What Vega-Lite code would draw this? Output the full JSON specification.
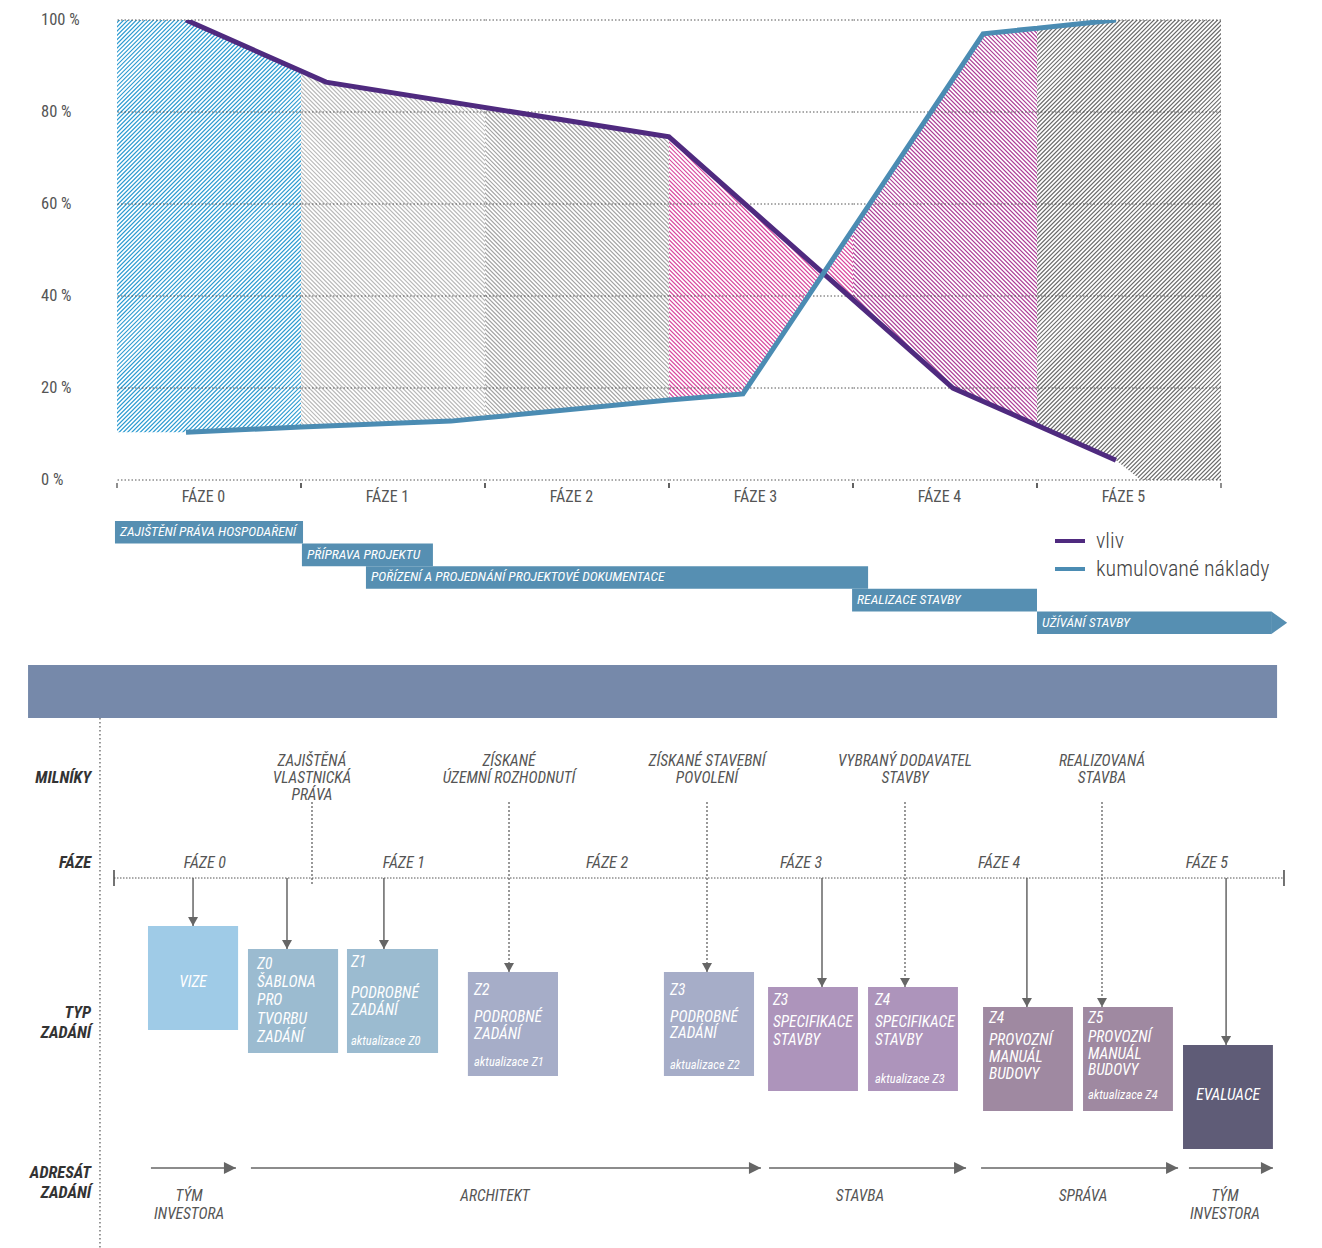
{
"$schema": "https://vega.github.io/schema/vega-lite/v6.json",
"background": "white",
"padding": 0,
"spacing": 0,
"bounds": "flush",
"config": {"view": {"stroke": null}, "font": "Roboto Condensed, Liberation Sans Narrow, DejaVu Sans Condensed, sans-serif"},
"datasets": {
"lines": [
{"series":"vliv","u":0.375,"v":100},
{"series":"vliv","u":1.136,"v":86.5},
{"series":"vliv","u":3.0,"v":74.6},
{"series":"vliv","u":4.543,"v":20.0},
{"series":"vliv","u":5.429,"v":4.3},
{"series":"kumulované náklady","u":0.375,"v":10.4},
{"series":"kumulované náklady","u":1.0,"v":11.5},
{"series":"kumulované náklady","u":1.815,"v":12.8},
{"series":"kumulované náklady","u":3.0,"v":17.4},
{"series":"kumulované náklady","u":3.402,"v":18.7},
{"series":"kumulované náklady","u":4.707,"v":97.0},
{"series":"kumulované náklady","u":5.429,"v":100}
],
"regions": [
{"region":0,"u":0,"lo":10.4,"hi":100},
{"region":0,"u":0.375,"lo":10.4,"hi":100},
{"region":0,"u":1.0,"lo":11.5,"hi":88.9},
{"region":1,"u":1.0,"lo":11.5,"hi":88.9},
{"region":1,"u":1.136,"lo":11.7,"hi":86.5},
{"region":1,"u":1.815,"lo":12.8,"hi":82.2},
{"region":1,"u":2.0,"lo":13.5,"hi":81.0},
{"region":2,"u":2.0,"lo":13.5,"hi":81.0},
{"region":2,"u":3.0,"lo":17.4,"hi":74.6},
{"region":3,"u":3.0,"lo":17.4,"hi":74.6},
{"region":3,"u":3.402,"lo":18.7,"hi":60.4},
{"region":3,"u":3.839,"lo":44.9,"hi":44.9},
{"region":3,"u":4.0,"lo":39.2,"hi":54.6},
{"region":4,"u":4.0,"lo":39.2,"hi":54.6},
{"region":4,"u":4.543,"lo":20.0,"hi":87.2},
{"region":4,"u":4.707,"lo":17.1,"hi":97.0},
{"region":4,"u":5.0,"lo":11.9,"hi":98.2},
{"region":5,"u":5.0,"lo":11.9,"hi":98.2},
{"region":5,"u":5.429,"lo":4.3,"hi":100},
{"region":5,"u":5.565,"lo":0,"hi":100},
{"region":5,"u":6.0,"lo":0,"hi":100}
],
"grid": [{"pct":0},{"pct":20},{"pct":40},{"pct":60},{"pct":80},{"pct":100}],
"topPhases": [
{"phase":"FÁZE 0","start":0,"end":1},
{"phase":"FÁZE 1","start":1,"end":2},
{"phase":"FÁZE 2","start":2,"end":3},
{"phase":"FÁZE 3","start":3,"end":4},
{"phase":"FÁZE 4","start":4,"end":5},
{"phase":"FÁZE 5","start":5,"end":6}
],
"stages": [
{"stage":"ZAJIŠTĚNÍ PRÁVA HOSPODAŘENÍ","order":0,"start":-0.011,"end":1.011},
{"stage":"PŘÍPRAVA PROJEKTU","order":1,"start":1.005,"end":1.717},
{"stage":"POŘÍZENÍ A PROJEDNÁNÍ PROJEKTOVÉ DOKUMENTACE","order":2,"start":1.353,"end":4.082},
{"stage":"REALIZACE STAVBY","order":3,"start":3.995,"end":5.0},
{"stage":"UŽÍVÁNÍ STAVBY","order":4,"start":5.0,"end":6.272}
],
"boxes": [
{"box":"VIZE","group":"vize","x0":0.172,"x1":0.628,"y0":27.8,"y1":38.2},
{"box":"Z0","group":"z01","x0":0.678,"x1":1.134,"y0":30.1,"y1":40.5},
{"box":"Z1","group":"z01","x0":1.179,"x1":1.640,"y0":30.1,"y1":40.5},
{"box":"Z2","group":"z23","x0":1.791,"x1":2.247,"y0":32.4,"y1":42.8},
{"box":"Z3 podrobné","group":"z23","x0":2.783,"x1":3.239,"y0":32.4,"y1":42.8},
{"box":"Z3 specifikace","group":"spec","x0":3.310,"x1":3.765,"y0":33.9,"y1":44.3},
{"box":"Z4 specifikace","group":"spec","x0":3.816,"x1":4.271,"y0":33.9,"y1":44.3},
{"box":"Z4 provoz","group":"provoz","x0":4.398,"x1":4.853,"y0":35.9,"y1":46.3},
{"box":"Z5 provoz","group":"provoz","x0":4.904,"x1":5.359,"y0":35.9,"y1":46.3},
{"box":"EVALUACE","group":"eval","x0":5.410,"x1":5.865,"y0":39.7,"y1":50.1}
],
"boxtext": [
{"text":"VIZE","u":0.400,"v":33.4,"role":"center"},
{"text":"Z0","u":0.724,"v":31.6,"role":"title"},
{"text":"ŠABLONA","u":0.724,"v":33.4,"role":"body"},
{"text":"PRO","u":0.724,"v":35.2,"role":"body"},
{"text":"TVORBU","u":0.724,"v":37.1,"role":"body"},
{"text":"ZADÁNÍ","u":0.724,"v":38.9,"role":"body"},
{"text":"Z1","u":1.199,"v":31.4,"role":"title"},
{"text":"PODROBNÉ","u":1.199,"v":34.5,"role":"body"},
{"text":"ZADÁNÍ","u":1.199,"v":36.2,"role":"body"},
{"text":"aktualizace Z0","u":1.199,"v":39.3,"role":"note"},
{"text":"Z2","u":1.822,"v":34.2,"role":"title"},
{"text":"PODROBNÉ","u":1.822,"v":36.9,"role":"body"},
{"text":"ZADÁNÍ","u":1.822,"v":38.6,"role":"body"},
{"text":"aktualizace Z1","u":1.822,"v":41.4,"role":"note"},
{"text":"Z3","u":2.814,"v":34.2,"role":"title"},
{"text":"PODROBNÉ","u":2.814,"v":36.9,"role":"body"},
{"text":"ZADÁNÍ","u":2.814,"v":38.5,"role":"body"},
{"text":"aktualizace Z2","u":2.814,"v":41.7,"role":"note"},
{"text":"Z3","u":3.335,"v":35.2,"role":"title"},
{"text":"SPECIFIKACE","u":3.335,"v":37.4,"role":"body"},
{"text":"STAVBY","u":3.335,"v":39.2,"role":"body"},
{"text":"Z4","u":3.851,"v":35.2,"role":"title"},
{"text":"SPECIFIKACE","u":3.851,"v":37.4,"role":"body"},
{"text":"STAVBY","u":3.851,"v":39.2,"role":"body"},
{"text":"aktualizace Z3","u":3.851,"v":43.1,"role":"note"},
{"text":"Z4","u":4.428,"v":37.0,"role":"title"},
{"text":"PROVOZNÍ","u":4.428,"v":39.2,"role":"body"},
{"text":"MANUÁL","u":4.428,"v":40.9,"role":"body"},
{"text":"BUDOVY","u":4.428,"v":42.6,"role":"body"},
{"text":"Z5","u":4.929,"v":37.0,"role":"title"},
{"text":"PROVOZNÍ","u":4.929,"v":38.9,"role":"body"},
{"text":"MANUÁL","u":4.929,"v":40.6,"role":"body"},
{"text":"BUDOVY","u":4.929,"v":42.2,"role":"body"},
{"text":"aktualizace Z4","u":4.929,"v":44.7,"role":"note"},
{"text":"EVALUACE","u":5.638,"v":44.7,"role":"center"}
],
"links": [
{"box":"VIZE","u":0.400,"target":27.8},
{"box":"Z0","u":0.8755,"target":30.1},
{"box":"Z1","u":1.366,"target":30.1},
{"box":"Z3 specifikace","u":3.583,"target":33.9},
{"box":"Z4 provoz","u":4.620,"target":35.9},
{"box":"EVALUACE","u":5.628,"target":39.7}
],
"milestones": [
{"label":"ZAJIŠTĚNÁ\nVLASTNICKÁ\nPRÁVA","u":1.002,"target":23.8},
{"label":"ZÍSKANÉ\nÚZEMNÍ ROZHODNUTÍ","u":1.999,"target":32.4},
{"label":"ZÍSKANÉ STAVEBNÍ\nPOVOLENÍ","u":3.001,"target":32.4},
{"label":"VYBRANÝ DODAVATEL\nSTAVBY","u":4.003,"target":33.9},
{"label":"REALIZOVANÁ\nSTAVBA","u":5.0,"target":35.9}
],
"phases": [
{"phase":"FÁZE 0","u":0.46},
{"phase":"FÁZE 1","u":1.467},
{"phase":"FÁZE 2","u":2.495},
{"phase":"FÁZE 3","u":3.477},
{"phase":"FÁZE 4","u":4.479},
{"phase":"FÁZE 5","u":5.531}
],
"rowlabels": [
{"label":"MILNÍKY","v":13.0},
{"label":"FÁZE","v":21.5},
{"label":"TYP\nZADÁNÍ","v":36.5},
{"label":"ADRESÁT\nZADÁNÍ","v":52.45}
],
"addressees": [
{"label":"TÝM\nINVESTORA","u0":0.187,"u1":0.617,"cu":0.380},
{"label":"ARCHITEKT","u0":0.693,"u1":3.274,"cu":1.928},
{"label":"STAVBA","u0":3.315,"u1":4.312,"cu":3.775},
{"label":"SPRÁVA","u0":4.388,"u1":5.385,"cu":4.904},
{"label":"TÝM\nINVESTORA","u0":5.440,"u1":5.865,"cu":5.622}
]
},
"resolve": {"scale": {"x": "independent", "y": "independent", "color": "independent"}},
"hconcat": [
{"width":184,"height":460,
"resolve": {"scale": {"x": "independent", "y": "independent", "color": "independent"}},
"layer":[
{"layer":[
{"data":{"values":[{}]},"transform":[{"calculate":"-1.04","as":"a"},{"calculate":"2.04","as":"b"},{"calculate":"111.5","as":"c"},{"calculate":"-11.5","as":"d"}],
"mark":{"type":"rule","clip":true,"color":"#2d9bd1","strokeWidth":700,"strokeDash":[1.2,1.8],"strokeCap":"butt"},
"encoding":{"x":{"field":"a","type":"quantitative","scale":{"domain":[0,1],"nice":false,"zero":false},"axis":null},"x2":{"field":"b"},
"y":{"field":"c","type":"quantitative","scale":{"domain":[0,100],"nice":false,"zero":false},"axis":null},"y2":{"field":"d"}}},
{"data":{"name":"regions"},"transform":[{"filter":"datum.region == 0"},{"calculate":"100","as":"ceil"}],"mark":{"type":"area","clip":true,"color":"white","opacity":1},
"encoding":{"x":{"field":"u","type":"quantitative","axis":null},"y":{"field":"hi","type":"quantitative","axis":null},"y2":{"field":"ceil"}}},
{"data":{"name":"regions"},"transform":[{"filter":"datum.region == 0"},{"calculate":"0","as":"floor"}],"mark":{"type":"area","clip":true,"color":"white","opacity":1},
"encoding":{"x":{"field":"u","type":"quantitative","axis":null},"y":{"field":"lo","type":"quantitative","axis":null},"y2":{"field":"floor"}}},
{"data":{"name":"grid"},"mark":{"type":"rule","color":"#555","strokeWidth":1,"strokeDash":[1.5,2]},
"encoding":{"y":{"field":"pct","type":"quantitative","axis":null}}},
{"data":{"name":"grid"},"transform":[{"calculate":"-0.413","as":"a"},{"calculate":"datum.pct + ' %'","as":"label"}],"mark":{"type":"text","align":"left","baseline":"middle","fontSize":16.5,"color":"#555"},
"encoding":{"x":{"field":"a","type":"quantitative","axis":null},"y":{"field":"pct","type":"quantitative","axis":null},"text":{"field":"label"}}},
{"data":{"name":"topPhases"},"transform":[{"calculate":"-0.65","as":"t0"},{"calculate":"-1.75","as":"t1"}],"mark":{"type":"rule","color":"#444","strokeWidth":1.2},
"encoding":{"x":{"field":"start","type":"quantitative","axis":null},"y":{"field":"t0","type":"quantitative","axis":null},"y2":{"field":"t1"}}},
{"data":{"name":"topPhases"},"transform":[{"calculate":"-0.65","as":"t0"},{"calculate":"-1.75","as":"t1"}],"mark":{"type":"rule","color":"#444","strokeWidth":1.2},
"encoding":{"x":{"field":"end","type":"quantitative","axis":null},"y":{"field":"t0","type":"quantitative","axis":null},"y2":{"field":"t1"}}},
{"data":{"name":"topPhases"},"transform":[{"calculate":"(datum.start + datum.end) / 2 - 0.03","as":"mid"},{"calculate":"-3.7","as":"row"}],"mark":{"type":"text","align":"center","baseline":"middle","fontSize":16,"color":"#555"},
"encoding":{"x":{"field":"mid","type":"quantitative","axis":null},"y":{"field":"row","type":"quantitative","axis":null},"text":{"field":"phase"}}},
{"data":{"name":"lines"},"mark":{"type":"line","clip":true,"strokeWidth":5},
"encoding":{"x":{"field":"u","type":"quantitative","axis":null},"y":{"field":"v","type":"quantitative","axis":null},"color":{"field":"series","type":"nominal","scale":{"domain":["vliv","kumulované náklady"],"range":["#4f2a7f","#4b8cb3"]},"legend":null}}}
]},
{"layer":[
{"data":{"name":"stages"},"transform":[{"calculate":"datum.order + 1","as":"orderEnd"}],"mark":{"type":"rect","color":"#568fb2"},
"encoding":{"x":{"field":"start","type":"quantitative","scale":{"domain":[0,1],"nice":false,"zero":false},"axis":null},"x2":{"field":"end"},
"y":{"field":"order","type":"quantitative","scale":{"domain":[-22.168,-1.814],"nice":false,"zero":false,"reverse":true},"axis":null},"y2":{"field":"orderEnd"}}},
{"data":{"name":"stages"},"transform":[{"filter":"datum.order == 4"},{"calculate":"datum.order + 0.5","as":"mid"}],"mark":{"type":"point","shape":"M0,-1L1.4,0L0,1Z","filled":true,"opacity":1,"color":"#568fb2","size":529,"strokeWidth":0},
"encoding":{"x":{"field":"end","type":"quantitative","axis":null},"y":{"field":"mid","type":"quantitative","axis":null}}},
{"data":{"name":"stages"},"transform":[{"calculate":"datum.order + 0.5","as":"mid"}],"mark":{"type":"text","align":"left","baseline":"middle","dx":5,"color":"white","fontSize":13.6,"fontStyle":"italic","fontWeight":"normal"},
"encoding":{"x":{"field":"start","type":"quantitative","axis":null},"y":{"field":"mid","type":"quantitative","axis":null},"text":{"field":"stage"}}}
]},
{"layer":[
{"data":{"values":[{}]},"transform":[{"calculate":"-0.5719","as":"a"},{"calculate":"6.1184","as":"b"},{"calculate":"-64.8","as":"c"},{"calculate":"60","as":"d"}],
"mark":{"type":"rect","opacity":0,"color":"white"},
"encoding":{"x":{"field":"a","type":"quantitative","scale":{"domain":[0.015182,0.946356],"nice":false,"zero":false},"axis":null},"x2":{"field":"b"},
"y":{"field":"c","type":"quantitative","scale":{"domain":[-62.8,-16.8],"nice":false,"zero":false,"reverse":true},"axis":null},"y2":{"field":"d"}}},
{"data":{"values":[{}]},"transform":[{"calculate":"-0.435","as":"a"},{"calculate":"5.886","as":"b"},{"calculate":"1.7","as":"c"},{"calculate":"7.0","as":"d"}],
"mark":{"type":"rect","color":"#7689aa"},
"encoding":{"x":{"field":"a","type":"quantitative","axis":null},"x2":{"field":"b"},"y":{"field":"c","type":"quantitative","axis":null},"y2":{"field":"d"}}},
{"data":{"values":[{}]},"transform":[{"calculate":"-0.071","as":"a"},{"calculate":"7.0","as":"c"},{"calculate":"60","as":"d"}],
"mark":{"type":"rule","color":"#777","strokeWidth":1.5,"strokeDash":[1.5,2.5]},
"encoding":{"x":{"field":"a","type":"quantitative","axis":null},"y":{"field":"c","type":"quantitative","axis":null},"y2":{"field":"d"}}},
{"data":{"name":"rowlabels"},"transform":[{"calculate":"-0.116","as":"a"}],"mark":{"type":"text","align":"right","baseline":"middle","fontSize":16.5,"fontStyle":"italic","fontWeight":"bold","color":"#333","lineBreak":"\n","lineHeight":20},
"encoding":{"x":{"field":"a","type":"quantitative","axis":null},"y":{"field":"v","type":"quantitative","axis":null},"text":{"field":"label"}}},
{"data":{"values":[{}]},"transform":[{"calculate":"0","as":"a"},{"calculate":"5.921","as":"b"},{"calculate":"23.0","as":"c"}],
"mark":{"type":"rule","color":"#555","strokeWidth":1,"strokeDash":[1.5,1.5]},
"encoding":{"x":{"field":"a","type":"quantitative","axis":null},"x2":{"field":"b"},"y":{"field":"c","type":"quantitative","axis":null}}},
{"data":{"values":[{"edge":0},{"edge":5.921}]},"transform":[{"calculate":"22.2","as":"c"},{"calculate":"23.8","as":"d"}],
"mark":{"type":"rule","color":"#444","strokeWidth":1.5},
"encoding":{"x":{"field":"edge","type":"quantitative","axis":null},"y":{"field":"c","type":"quantitative","axis":null},"y2":{"field":"d"}}},
{"data":{"name":"milestones"},"transform":[{"calculate":"15.4","as":"from"}],"mark":{"type":"rule","color":"#555","strokeWidth":1.2,"strokeDash":[2,2]},
"encoding":{"x":{"field":"u","type":"quantitative","axis":null},"y":{"field":"from","type":"quantitative","axis":null},"y2":{"field":"target"}}},
{"data":{"name":"milestones"},"transform":[{"filter":"datum.target > 24"}],"mark":{"type":"point","shape":"M0,0L-1,-1.8L1,-1.8Z","filled":true,"opacity":1,"color":"#666","size":100,"strokeWidth":0},
"encoding":{"x":{"field":"u","type":"quantitative","axis":null},"y":{"field":"target","type":"quantitative","axis":null}}},
{"data":{"name":"milestones"},"transform":[{"calculate":"10.6","as":"top"}],"mark":{"type":"text","align":"center","baseline":"top","fontSize":15.5,"fontStyle":"italic","color":"#555","lineBreak":"\n","lineHeight":17},
"encoding":{"x":{"field":"u","type":"quantitative","axis":null},"y":{"field":"top","type":"quantitative","axis":null},"text":{"field":"label"}}},
{"data":{"name":"phases"},"transform":[{"calculate":"21.5","as":"row"}],"mark":{"type":"text","align":"center","baseline":"middle","fontSize":16,"fontStyle":"italic","color":"#555"},
"encoding":{"x":{"field":"u","type":"quantitative","axis":null},"y":{"field":"row","type":"quantitative","axis":null},"text":{"field":"phase"}}},
{"data":{"name":"links"},"transform":[{"calculate":"23.0","as":"from"}],"mark":{"type":"rule","color":"#666","strokeWidth":1.5},
"encoding":{"x":{"field":"u","type":"quantitative","axis":null},"y":{"field":"from","type":"quantitative","axis":null},"y2":{"field":"target"}}},
{"data":{"name":"links"},"mark":{"type":"point","shape":"M0,0L-1,-1.8L1,-1.8Z","filled":true,"opacity":1,"color":"#666","size":100,"strokeWidth":0},
"encoding":{"x":{"field":"u","type":"quantitative","axis":null},"y":{"field":"target","type":"quantitative","axis":null}}},
{"data":{"name":"boxes"},"mark":{"type":"rect","opacity":1},
"encoding":{"x":{"field":"x0","type":"quantitative","axis":null},"x2":{"field":"x1"},"y":{"field":"y0","type":"quantitative","axis":null},"y2":{"field":"y1"},
"color":{"field":"group","type":"nominal","scale":{"domain":["vize","z01","z23","spec","provoz","eval"],"range":["#9fcbe7","#9bbbd0","#a6adc8","#ad94bb","#9f89a1","#5f5c77"]},"legend":null}}},
{"data":{"name":"boxtext"},"transform":[{"filter":"datum.role == 'title' || datum.role == 'body'"}],"mark":{"type":"text","align":"left","baseline":"middle","fontStyle":"italic","color":"white","fontSize":15.5},
"encoding":{"x":{"field":"u","type":"quantitative","axis":null},"y":{"field":"v","type":"quantitative","axis":null},"text":{"field":"text"}}},
{"data":{"name":"boxtext"},"transform":[{"filter":"datum.role == 'note'"}],"mark":{"type":"text","align":"left","baseline":"middle","fontStyle":"italic","color":"white","fontSize":12.5},
"encoding":{"x":{"field":"u","type":"quantitative","axis":null},"y":{"field":"v","type":"quantitative","axis":null},"text":{"field":"text"}}},
{"data":{"name":"boxtext"},"transform":[{"filter":"datum.role == 'center'"}],"mark":{"type":"text","align":"center","baseline":"middle","fontStyle":"italic","color":"white","fontSize":15.5},
"encoding":{"x":{"field":"u","type":"quantitative","axis":null},"y":{"field":"v","type":"quantitative","axis":null},"text":{"field":"text"}}},
{"data":{"name":"addressees"},"transform":[{"calculate":"52.0","as":"row"}],"mark":{"type":"rule","color":"#666","strokeWidth":1.5},
"encoding":{"x":{"field":"u0","type":"quantitative","axis":null},"x2":{"field":"u1"},"y":{"field":"row","type":"quantitative","axis":null}}},
{"data":{"name":"addressees"},"transform":[{"calculate":"52.0","as":"row"}],"mark":{"type":"point","shape":"M0,0L-2,-1L-2,1Z","filled":true,"opacity":1,"color":"#666","size":144,"strokeWidth":0},
"encoding":{"x":{"field":"u1","type":"quantitative","axis":null},"y":{"field":"row","type":"quantitative","axis":null}}},
{"data":{"name":"addressees"},"transform":[{"calculate":"54.75","as":"row"}],"mark":{"type":"text","align":"center","baseline":"middle","fontSize":15.5,"fontStyle":"italic","color":"#555","lineBreak":"\n","lineHeight":18},
"encoding":{"x":{"field":"cu","type":"quantitative","axis":null},"y":{"field":"row","type":"quantitative","axis":null},"text":{"field":"label"}}}
]}
]},
{"width":184,"height":460,"layer":[
{"data":{"values":[{}]},"transform":[{"calculate":"-0.04","as":"a"},{"calculate":"3.04","as":"b"},{"calculate":"-11.5","as":"c"},{"calculate":"111.5","as":"d"}],
"mark":{"type":"rule","clip":true,"color":"#b9b9b9","strokeWidth":700,"strokeDash":[1.2,1.8],"strokeCap":"butt"},
"encoding":{"x":{"field":"a","type":"quantitative","scale":{"domain":[1,2],"nice":false,"zero":false},"axis":null},"x2":{"field":"b"},
"y":{"field":"c","type":"quantitative","scale":{"domain":[0,100],"nice":false,"zero":false},"axis":null},"y2":{"field":"d"}}},
{"data":{"name":"regions"},"transform":[{"filter":"datum.region == 1"},{"calculate":"100","as":"ceil"}],"mark":{"type":"area","clip":true,"color":"white","opacity":1},
"encoding":{"x":{"field":"u","type":"quantitative","axis":null},"y":{"field":"hi","type":"quantitative","axis":null},"y2":{"field":"ceil"}}},
{"data":{"name":"regions"},"transform":[{"filter":"datum.region == 1"},{"calculate":"0","as":"floor"}],"mark":{"type":"area","clip":true,"color":"white","opacity":1},
"encoding":{"x":{"field":"u","type":"quantitative","axis":null},"y":{"field":"lo","type":"quantitative","axis":null},"y2":{"field":"floor"}}},
{"data":{"name":"grid"},"mark":{"type":"rule","color":"#555","strokeWidth":1,"strokeDash":[1.5,2]},
"encoding":{"y":{"field":"pct","type":"quantitative","axis":null}}},
{"data":{"name":"lines"},"mark":{"type":"line","clip":true,"strokeWidth":5},
"encoding":{"x":{"field":"u","type":"quantitative","axis":null},"y":{"field":"v","type":"quantitative","axis":null},"color":{"field":"series","type":"nominal","scale":{"domain":["vliv","kumulované náklady"],"range":["#4f2a7f","#4b8cb3"]},"legend":null}}}
]},
{"width":184,"height":460,"layer":[
{"data":{"values":[{}]},"transform":[{"calculate":"0.96","as":"a"},{"calculate":"4.04","as":"b"},{"calculate":"-11.5","as":"c"},{"calculate":"111.5","as":"d"}],
"mark":{"type":"rule","clip":true,"color":"#a3a3a3","strokeWidth":700,"strokeDash":[1.2,1.8],"strokeCap":"butt"},
"encoding":{"x":{"field":"a","type":"quantitative","scale":{"domain":[2,3],"nice":false,"zero":false},"axis":null},"x2":{"field":"b"},
"y":{"field":"c","type":"quantitative","scale":{"domain":[0,100],"nice":false,"zero":false},"axis":null},"y2":{"field":"d"}}},
{"data":{"name":"regions"},"transform":[{"filter":"datum.region == 2"},{"calculate":"100","as":"ceil"}],"mark":{"type":"area","clip":true,"color":"white","opacity":1},
"encoding":{"x":{"field":"u","type":"quantitative","axis":null},"y":{"field":"hi","type":"quantitative","axis":null},"y2":{"field":"ceil"}}},
{"data":{"name":"regions"},"transform":[{"filter":"datum.region == 2"},{"calculate":"0","as":"floor"}],"mark":{"type":"area","clip":true,"color":"white","opacity":1},
"encoding":{"x":{"field":"u","type":"quantitative","axis":null},"y":{"field":"lo","type":"quantitative","axis":null},"y2":{"field":"floor"}}},
{"data":{"name":"grid"},"mark":{"type":"rule","color":"#555","strokeWidth":1,"strokeDash":[1.5,2]},
"encoding":{"y":{"field":"pct","type":"quantitative","axis":null}}},
{"data":{"name":"lines"},"mark":{"type":"line","clip":true,"strokeWidth":5},
"encoding":{"x":{"field":"u","type":"quantitative","axis":null},"y":{"field":"v","type":"quantitative","axis":null},"color":{"field":"series","type":"nominal","scale":{"domain":["vliv","kumulované náklady"],"range":["#4f2a7f","#4b8cb3"]},"legend":null}}}
]},
{"width":184,"height":460,"layer":[
{"data":{"values":[{}]},"transform":[{"calculate":"1.96","as":"a"},{"calculate":"5.04","as":"b"},{"calculate":"-11.5","as":"c"},{"calculate":"111.5","as":"d"}],
"mark":{"type":"rule","clip":true,"color":"#d9489e","strokeWidth":700,"strokeDash":[1.2,1.8],"strokeCap":"butt"},
"encoding":{"x":{"field":"a","type":"quantitative","scale":{"domain":[3,4],"nice":false,"zero":false},"axis":null},"x2":{"field":"b"},
"y":{"field":"c","type":"quantitative","scale":{"domain":[0,100],"nice":false,"zero":false},"axis":null},"y2":{"field":"d"}}},
{"data":{"name":"regions"},"transform":[{"filter":"datum.region == 3"},{"calculate":"100","as":"ceil"}],"mark":{"type":"area","clip":true,"color":"white","opacity":1},
"encoding":{"x":{"field":"u","type":"quantitative","axis":null},"y":{"field":"hi","type":"quantitative","axis":null},"y2":{"field":"ceil"}}},
{"data":{"name":"regions"},"transform":[{"filter":"datum.region == 3"},{"calculate":"0","as":"floor"}],"mark":{"type":"area","clip":true,"color":"white","opacity":1},
"encoding":{"x":{"field":"u","type":"quantitative","axis":null},"y":{"field":"lo","type":"quantitative","axis":null},"y2":{"field":"floor"}}},
{"data":{"name":"grid"},"mark":{"type":"rule","color":"#555","strokeWidth":1,"strokeDash":[1.5,2]},
"encoding":{"y":{"field":"pct","type":"quantitative","axis":null}}},
{"data":{"name":"lines"},"mark":{"type":"line","clip":true,"strokeWidth":5},
"encoding":{"x":{"field":"u","type":"quantitative","axis":null},"y":{"field":"v","type":"quantitative","axis":null},"color":{"field":"series","type":"nominal","scale":{"domain":["vliv","kumulované náklady"],"range":["#4f2a7f","#4b8cb3"]},"legend":null}}}
]},
{"width":184,"height":460,"layer":[
{"data":{"values":[{}]},"transform":[{"calculate":"2.96","as":"a"},{"calculate":"6.04","as":"b"},{"calculate":"-11.5","as":"c"},{"calculate":"111.5","as":"d"}],
"mark":{"type":"rule","clip":true,"color":"#ad3f97","strokeWidth":700,"strokeDash":[1.2,1.8],"strokeCap":"butt"},
"encoding":{"x":{"field":"a","type":"quantitative","scale":{"domain":[4,5],"nice":false,"zero":false},"axis":null},"x2":{"field":"b"},
"y":{"field":"c","type":"quantitative","scale":{"domain":[0,100],"nice":false,"zero":false},"axis":null},"y2":{"field":"d"}}},
{"data":{"name":"regions"},"transform":[{"filter":"datum.region == 4"},{"calculate":"100","as":"ceil"}],"mark":{"type":"area","clip":true,"color":"white","opacity":1},
"encoding":{"x":{"field":"u","type":"quantitative","axis":null},"y":{"field":"hi","type":"quantitative","axis":null},"y2":{"field":"ceil"}}},
{"data":{"name":"regions"},"transform":[{"filter":"datum.region == 4"},{"calculate":"0","as":"floor"}],"mark":{"type":"area","clip":true,"color":"white","opacity":1},
"encoding":{"x":{"field":"u","type":"quantitative","axis":null},"y":{"field":"lo","type":"quantitative","axis":null},"y2":{"field":"floor"}}},
{"data":{"name":"grid"},"mark":{"type":"rule","color":"#555","strokeWidth":1,"strokeDash":[1.5,2]},
"encoding":{"y":{"field":"pct","type":"quantitative","axis":null}}},
{"data":{"name":"lines"},"mark":{"type":"line","clip":true,"strokeWidth":5},
"encoding":{"x":{"field":"u","type":"quantitative","axis":null},"y":{"field":"v","type":"quantitative","axis":null},"color":{"field":"series","type":"nominal","scale":{"domain":["vliv","kumulované náklady"],"range":["#4f2a7f","#4b8cb3"]},"legend":null}}}
]},
{"width":184,"height":460,"layer":[
{"data":{"values":[{}]},"transform":[{"calculate":"3.96","as":"a"},{"calculate":"7.04","as":"b"},{"calculate":"111.5","as":"c"},{"calculate":"-11.5","as":"d"}],
"mark":{"type":"rule","clip":true,"color":"#6b6b6b","strokeWidth":700,"strokeDash":[1.2,1.8],"strokeCap":"butt"},
"encoding":{"x":{"field":"a","type":"quantitative","scale":{"domain":[5,6],"nice":false,"zero":false},"axis":null},"x2":{"field":"b"},
"y":{"field":"c","type":"quantitative","scale":{"domain":[0,100],"nice":false,"zero":false},"axis":null},"y2":{"field":"d"}}},
{"data":{"name":"regions"},"transform":[{"filter":"datum.region == 5"},{"calculate":"100","as":"ceil"}],"mark":{"type":"area","clip":true,"color":"white","opacity":1},
"encoding":{"x":{"field":"u","type":"quantitative","axis":null},"y":{"field":"hi","type":"quantitative","axis":null},"y2":{"field":"ceil"}}},
{"data":{"name":"regions"},"transform":[{"filter":"datum.region == 5"},{"calculate":"0","as":"floor"}],"mark":{"type":"area","clip":true,"color":"white","opacity":1},
"encoding":{"x":{"field":"u","type":"quantitative","axis":null},"y":{"field":"lo","type":"quantitative","axis":null},"y2":{"field":"floor"}}},
{"data":{"name":"grid"},"mark":{"type":"rule","color":"#555","strokeWidth":1,"strokeDash":[1.5,2]},
"encoding":{"y":{"field":"pct","type":"quantitative","axis":null}}},
{"data":{"name":"lines"},"mark":{"type":"line","clip":true,"strokeWidth":5},
"encoding":{"x":{"field":"u","type":"quantitative","axis":null},"y":{"field":"v","type":"quantitative","axis":null},"color":{"field":"series","type":"nominal","scale":{"domain":["vliv","kumulované náklady"],"range":["#4f2a7f","#4b8cb3"]},"legend":{"orient":"none","legendX":16,"legendY":504,"title":null,"symbolType":"stroke","symbolSize":900,"symbolStrokeWidth":4,"labelFontSize":22,"labelColor":"#444","labelFontWeight":300,"labelOffset":9,"labelLimit":400,"rowPadding":-9,"padding":0}}}}
]}
]
}
